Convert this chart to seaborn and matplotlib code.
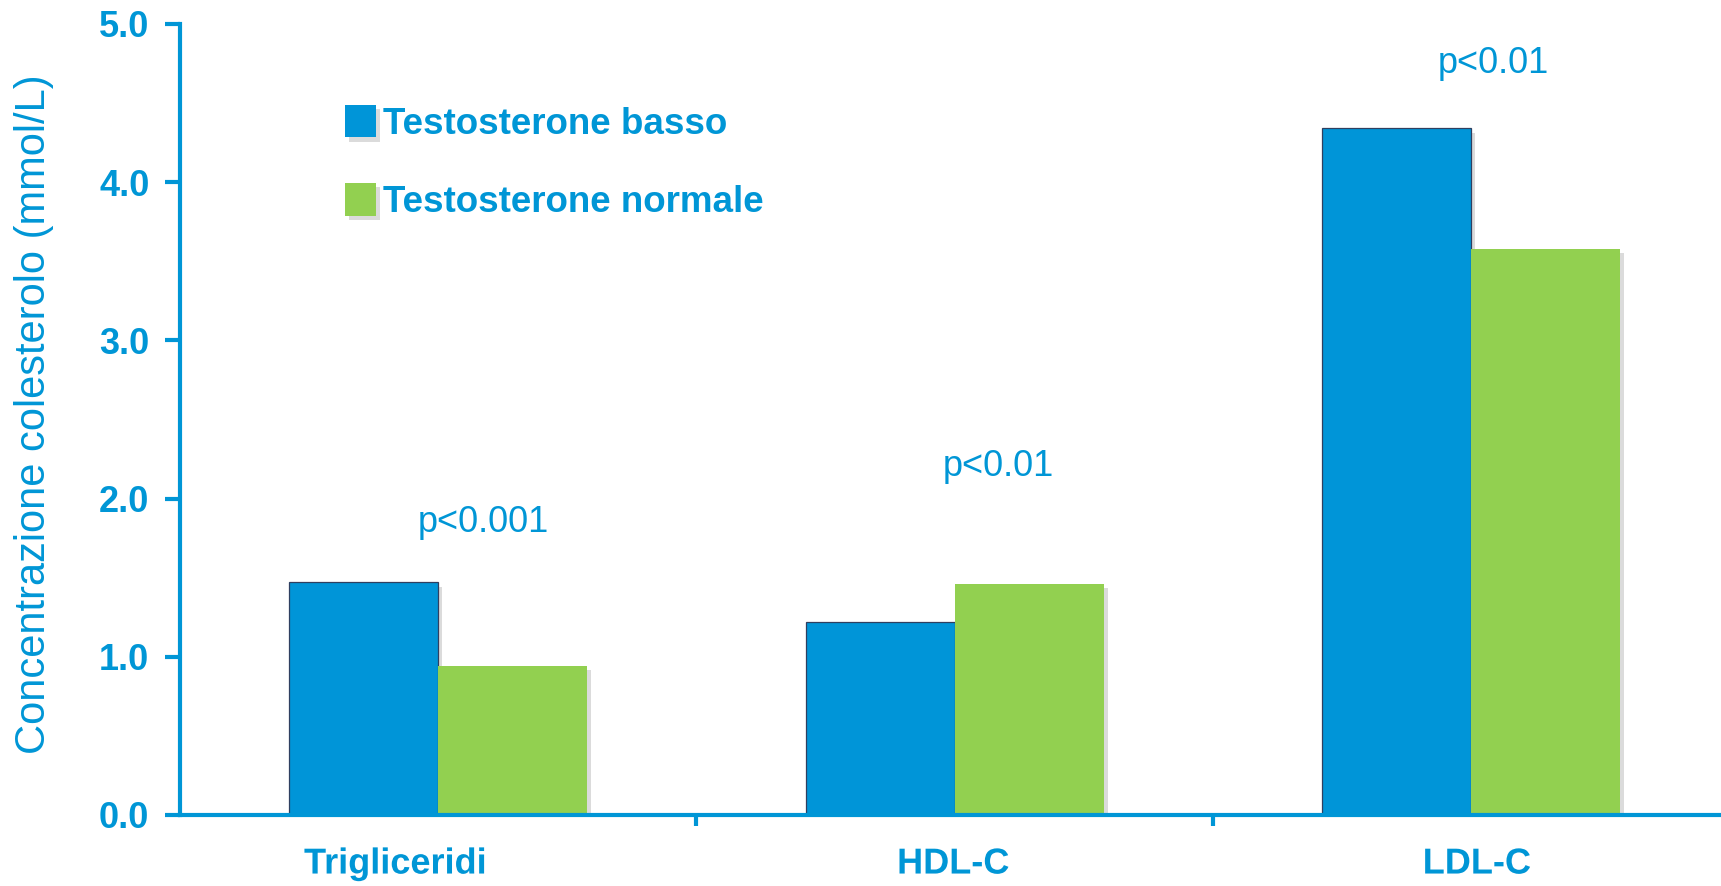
import matplotlib
matplotlib.use("Agg")
import matplotlib.pyplot as plt
import matplotlib.patheffects as pe
from matplotlib.patches import Patch
import pandas as pd
import seaborn as sns

# Lipid values by testosterone group (mmol/L)
categories = ["Trigliceridi", "HDL-C", "LDL-C"]
groups = ["Testosterone basso", "Testosterone normale"]
basso = [1.47, 1.22, 4.34]
normale = [0.94, 1.46, 3.58]
p_values = ["p<0.001", "p<0.01", "p<0.01"]
p_heights = [1.85, 2.20, 4.75]
y_ticks = [0.0, 1.0, 2.0, 3.0, 4.0, 5.0]

BLUE = "#0096D6"
BAR_BLUE = "#0095D8"
GREEN = "#92D050"

sns.set_style("white")
plt.rcParams["font.family"] = ["Liberation Sans", "DejaVu Sans"]

df = pd.DataFrame({
    "categoria": categories * 2,
    "gruppo": [groups[0]] * len(categories) + [groups[1]] * len(categories),
    "valore": basso + normale,
})

fig = plt.figure(figsize=(17.21, 8.86), dpi=100)
ax = fig.add_axes([180 / 1721, 1 - 815 / 886, 1 - 180 / 1721, (815 - 24) / 886])

sns.barplot(data=df, x="categoria", y="valore", hue="gruppo", order=categories,
            hue_order=groups, palette=[BAR_BLUE, GREEN], width=0.577,
            saturation=1, errorbar=None, ax=ax, legend=False)

shadow = [pe.SimplePatchShadow(offset=(3, -3), shadow_rgbFace="#888888", alpha=0.3), pe.Normal()]
for i, patch in enumerate(ax.patches):
    patch.set_path_effects(shadow)
    if i < len(categories):
        patch.set_edgecolor("#2F3F60")
        patch.set_linewidth(0.9)
    else:
        patch.set_edgecolor("none")

ax.set_xlim(-0.5, 2.484)
ax.set_ylim(0, 5.0)

# axis styling
for side in ["top", "right"]:
    ax.spines[side].set_visible(False)
for side in ["left", "bottom"]:
    ax.spines[side].set_color(BLUE)
    ax.spines[side].set_linewidth(3)

ax.set_yticks(y_ticks)
ax.set_yticklabels([f"{v:.1f}" for v in y_ticks], fontsize=26, fontweight="bold", color=BLUE)
ax.tick_params(axis="y", direction="out", length=11, width=3, color=BLUE, pad=11, left=True)

# x ticks sit between the groups; group names are drawn as text
ax.set_xticks([0.5, 1.5])
ax.set_xticklabels(["", ""])
ax.tick_params(axis="x", direction="out", length=8, width=3, color=BLUE, bottom=True)
ax.set_xlabel("")

label_x = [-0.083, 0.997, 2.011]
for x, name in zip(label_x, categories):
    ax.text(x, -0.062, name, transform=ax.get_xaxis_transform(), ha="center", va="center",
            fontsize=26, fontweight="bold", color=BLUE,
            path_effects=[pe.SimpleLineShadow(offset=(2, -2), alpha=0.2), pe.Normal()])

ax.set_ylabel("Concentrazione colesterolo (mmol/L)", fontsize=30, color=BLUE, va="center")
ax.yaxis.set_label_coords(-0.095, 0.507)

# significance labels
p_x = [0.087, 1.085, 2.044]
for x, y, txt in zip(p_x, p_heights, p_values):
    ax.text(x, y, txt, ha="center", va="center", fontsize=26, color=BLUE)

handles = [Patch(facecolor=BAR_BLUE, edgecolor="none"), Patch(facecolor=GREEN, edgecolor="none")]
leg = fig.legend(handles, groups, loc="upper left",
                 bbox_to_anchor=(345 / 1721, 1 - 105 / 886), frameon=False,
                 prop={"size": 26.5, "weight": "bold"}, handlelength=0.84, handleheight=0.98,
                 handletextpad=0.2, labelspacing=1.12, borderpad=0, borderaxespad=0)
for t in leg.get_texts():
    t.set_color(BLUE)
for h in leg.legend_handles:
    h.set_path_effects([pe.SimplePatchShadow(offset=(3, -3), shadow_rgbFace="#888888", alpha=0.3), pe.Normal()])

fig.savefig("out.png", dpi=100)
